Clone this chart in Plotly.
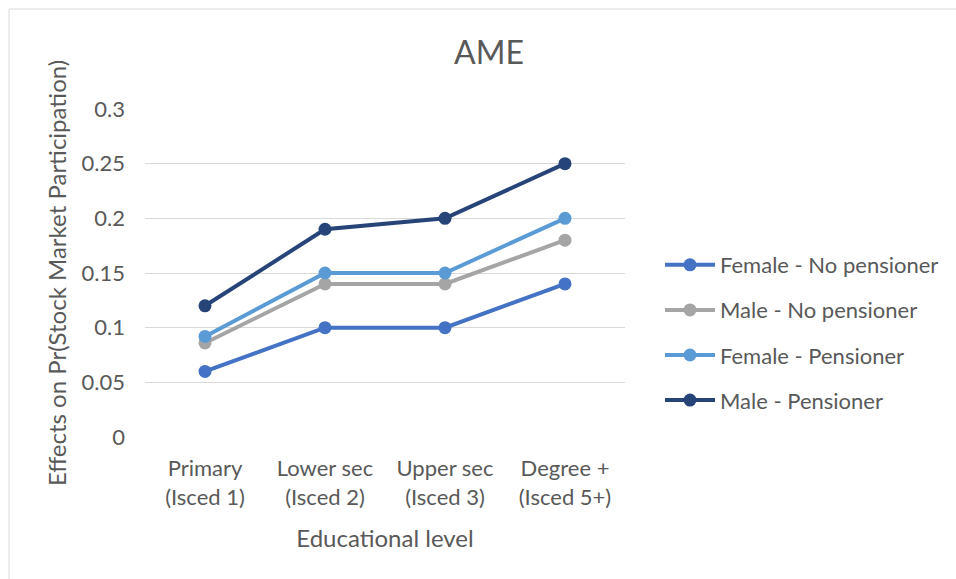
import plotly.graph_objects as go

categories = ["Primary<br>(Isced 1)", "Lower sec<br>(Isced 2)", "Upper sec<br>(Isced 3)", "Degree +<br>(Isced 5+)"]
female_no_pens = [0.06, 0.10, 0.10, 0.14]
male_no_pens = [0.086, 0.14, 0.14, 0.18]
female_pens = [0.092, 0.15, 0.15, 0.20]
male_pens = [0.12, 0.19, 0.20, 0.25]

series = [
    ("Female - No pensioner", female_no_pens, "#4472C4"),
    ("Male - No pensioner", male_no_pens, "#A5A5A5"),
    ("Female - Pensioner", female_pens, "#5B9BD5"),
    ("Male - Pensioner", male_pens, "#264478"),
]

FONT = "Lato, 'Open Sans', sans-serif"
GREY = "#595959"

fig = go.Figure()
for i, (name, vals, col) in enumerate(series):
    fig.add_trace(go.Scatter(
        x=categories, y=vals, name=name, mode="lines+markers",
        line=dict(color=col, width=4),
        marker=dict(color=col, size=13),
        legendgroup=f"g{i}",
    ))

W, H = 956, 579
L, R, T, B = 145, 625, 109, 437
pw, ph = R - L, B - T

def px2x(p):
    return (p - L) / pw

def py2y(p):
    return (B - p) / ph

fig.update_layout(
    width=W, height=H,
    margin=dict(l=L, r=W - R, t=T, b=H - B),
    paper_bgcolor="white", plot_bgcolor="white",
    font=dict(family=FONT, color=GREY, size=22),
    title=dict(text="AME", x=489 / W, xref="container", xanchor="center",
               y=1 - 53 / H, yanchor="middle", font=dict(size=32, color=GREY)),
    xaxis=dict(
        type="category", range=[-0.5, 3.5], showgrid=False, zeroline=False,
        showline=False, ticks="", tickfont=dict(size=22, color=GREY),
        ticklabelstandoff=16,
        title=dict(text="Educational level", font=dict(size=24, color=GREY), standoff=21),
    ),
    yaxis=dict(
        range=[0, 0.3], dtick=0.05, tickformat="~g", showgrid=True, gridcolor="#D9D9D9",
        gridwidth=1, zeroline=False, showline=False, ticks="",
        tickfont=dict(size=22, color=GREY), ticklabelstandoff=19,
        title=dict(text="Effects on Pr(Stock Market Participation)", font=dict(size=24, color=GREY), standoff=8),
    ),
    legend=dict(
        x=px2x(660), xanchor="left", y=py2y(244), yanchor="top",
        font=dict(size=22, color=GREY), tracegroupgap=13.5, bgcolor="rgba(0,0,0,0)",
        itemwidth=50,
    ),
    shapes=[dict(type="rect", xref="paper", yref="paper",
                 x0=px2x(9), x1=px2x(970), y0=py2y(590), y1=py2y(9),
                 line=dict(color="#D9D9D9", width=1), fillcolor="rgba(0,0,0,0)", layer="below")],
)

fig.write_html("out.html")
